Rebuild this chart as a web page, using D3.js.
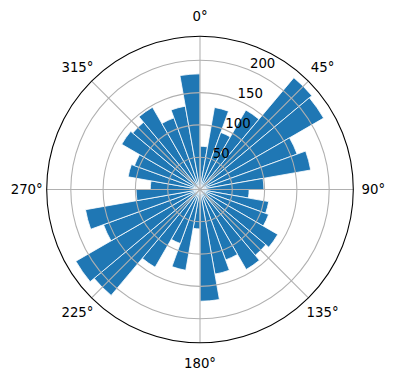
<!DOCTYPE html>
<html>
<head>
<meta charset="utf-8">
<script src="https://cdn.jsdelivr.net/npm/d3@7"></script>
<style>
  body { margin: 0; background: #fff; }
  text { font-family: "DejaVu Sans", sans-serif; font-size: 13.3px; fill: #000; }
</style>
</head>
<body>
<div id="chart"></div>
<script>
// bar heights, one per 10° sector, clockwise from north
const values = [
  67, 129, 94, 142, 226, 221, 160, 174, 99,
  76, 108, 113, 139, 133, 143, 116, 133, 173,
  61, 127, 89, 139, 214, 222, 159, 180, 99,
  77, 113, 108, 140, 136, 147, 118, 131, 179
]
const rTicks = [50, 100, 150, 200]
const thetaTicks = [0, 45, 90, 135, 180, 225, 270, 315]

const width = 396
const height = 380
const cx = 200
const cy = 189.5
const R = 153.3

const svg = d3.select("#chart").append("svg")
  .attr("width", width)
  .attr("height", height)
  .attr("viewBox", [0, 0, width, height])

const g = svg.append("g").attr("transform", `translate(${cx},${cy})`)

const r = d3.scaleLinear()
  .domain([0, d3.max(values) * 1.05])
  .range([0, R])

const step = 2 * Math.PI / values.length
const toRad = d => d * Math.PI / 180

const arc = d3.arc()
  .innerRadius(0)
  .outerRadius(d => r(d.v))
  .startAngle(d => d.i * step)
  .endAngle(d => (d.i + 1) * step)

g.append("g").classed("bars", true)
  .selectAll("path")
  .data(values.map((v, i) => ({v, i})))
  .enter().append("path")
  .attr("d", arc)
  .attr("fill", "#1f77b4")
  .attr("stroke", "#fff")
  .attr("stroke-width", 0.8)
  .attr("stroke-linejoin", "miter")

// grid on top of the bars, like matplotlib
const grid = g.append("g").classed("grid", true)
  .attr("fill", "none")
  .attr("stroke", "#b0b0b0")
  .attr("stroke-width", 1.07)

grid.selectAll("circle")
  .data(rTicks)
  .enter().append("circle")
  .attr("r", d => r(d))

grid.selectAll("line")
  .data(thetaTicks)
  .enter().append("line")
  .attr("x1", 0).attr("y1", 0)
  .attr("x2", d => R * Math.sin(toRad(d)))
  .attr("y2", d => -R * Math.cos(toRad(d)))

g.append("circle")
  .attr("r", R)
  .attr("fill", "none")
  .attr("stroke", "#000")
  .attr("stroke-width", 1.07)

g.append("g").classed("theta-labels", true)
  .attr("text-anchor", "middle")
  .selectAll("text")
  .data(thetaTicks)
  .enter().append("text")
  .attr("x", d => (R + 20) * Math.sin(toRad(d)))
  .attr("y", d => -(R + 20) * Math.cos(toRad(d)))
  .attr("dy", "0.36em")
  .text(d => d + "°")

const la = toRad(22.5)
g.append("g").classed("r-labels", true)
  .selectAll("text")
  .data(rTicks)
  .enter().append("text")
  .attr("x", d => r(d) * Math.sin(la) + 0.5)
  .attr("y", d => -r(d) * Math.cos(la) - 2)
  .text(d => d)
</script>
</body>
</html>
